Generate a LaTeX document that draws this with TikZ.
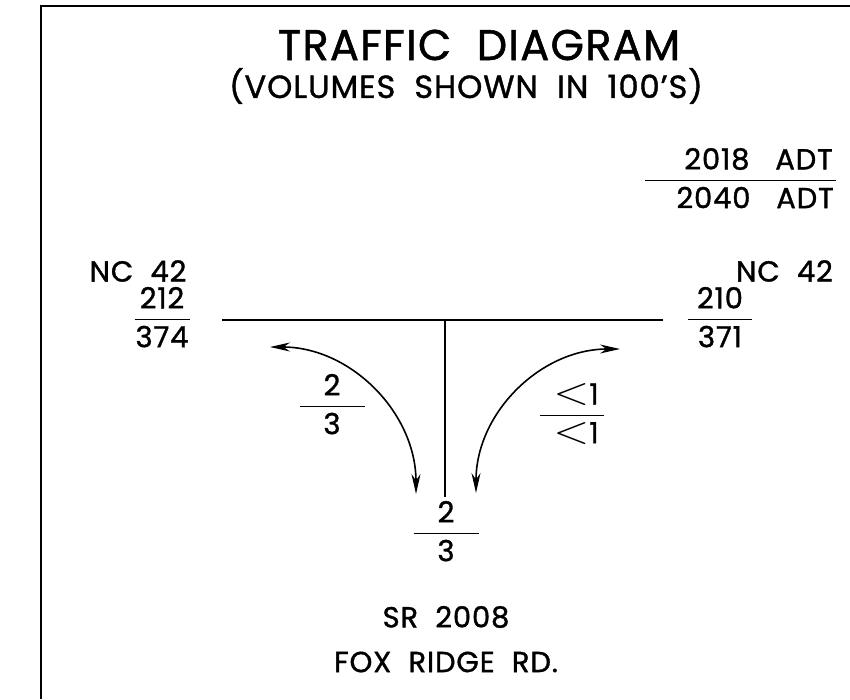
\documentclass[tikz,border=0pt]{standalone}
\usepackage{fontspec}
\usepackage{graphicx}
\setmainfont{Poppins}[FakeBold=1.2,LetterSpace=3]
\usetikzlibrary{arrows.meta}

% volume pair: top value over bottom value, bar of fixed width
\newcommand{\volfrac}[4][c]{{\setlength{\arrayrulewidth}{1.6pt}%
  \begin{tabular}{@{}c@{}}\makebox[#2][#1]{#3}\\\hline\rule{0pt}{27pt}\makebox[#2][#1]{#4}\end{tabular}}}
\newcommand{\lessthan}{\scalebox{1.9}[1.6]{$<$}}

\tikzset{
  road/.style={line width=1.6pt},
  turn/.style={line width=1.6pt,{Stealth[length=20pt,width=9pt]}-{Stealth[length=20pt,width=9pt]}},
  lbl/.style={inner sep=0pt,font=\fontsize{29}{34}\selectfont},
}

\begin{document}
\begin{tikzpicture}[x=1pt,y=1pt]
  \useasboundingbox (0,0) rectangle (850,699);
  \draw[line width=1.6pt] (41,0) -- (41,693) -- (850,693);

  % headings
  \node[inner sep=0pt,font=\fontsize{43}{50}\selectfont] (title) at (479,654) {TRAFFIC\ \ DIAGRAM};
  \node[inner sep=0pt,font=\fontsize{32}{37}\selectfont] (subtitle) at (466,613) {(VOLUMES\ \ SHOWN\ \ IN\ \ 100'S)};
  \node[lbl,anchor=east] (legend) at (836,517) {\volfrac[r]{191pt}{2018\ \ \ ADT\hspace{3pt}}{2040\ \ \ ADT\hspace{2pt}}};

  % roads
  \coordinate (wEnd) at (222,379);
  \coordinate (eEnd) at (663,379);
  \coordinate (tee) at (445,379);
  \coordinate (sEnd) at (445,202);
  \draw[road] (wEnd) -- (eEnd);
  \draw[road] (tee) -- (sEnd);

  % turning movements
  \coordinate (lTop) at (270,352);
  \coordinate (lBot) at (416,205);
  \coordinate (rBot) at (476,206);
  \coordinate (rTop) at (620,350);
  \draw[turn] (lTop) to[out=0,in=90] (lBot);
  \draw[turn] (rBot) to[out=90,in=180] (rTop);

  % road names and volumes
  \node[lbl] (ncWest) at (138,428) {NC\ \ 42};
  \node[lbl,anchor=east] (ncEast) at (833,428) {NC\ \ 42};
  \node[lbl] (volWest) at (162,378) {\volfrac{55pt}{212}{374}};
  \node[lbl] (volEast) at (720,378) {\volfrac{64pt}{210}{371}};
  \node[lbl] (volLeft) at (332,291) {\volfrac{65pt}{2}{3}};
  \node[lbl] (volRight) at (572,282) {\volfrac{64pt}{\hspace{8pt}\lessthan1}{\hspace{8pt}\lessthan1}};
  \node[lbl] (volSouth) at (446,164) {\volfrac{65pt}{2}{3}};
  \node[lbl] (srName) at (446,82) {SR\ \ 2008};
  \node[lbl] (foxName) at (446,37) {FOX\ \ RIDGE\ \ RD.};
\end{tikzpicture}
\end{document}
